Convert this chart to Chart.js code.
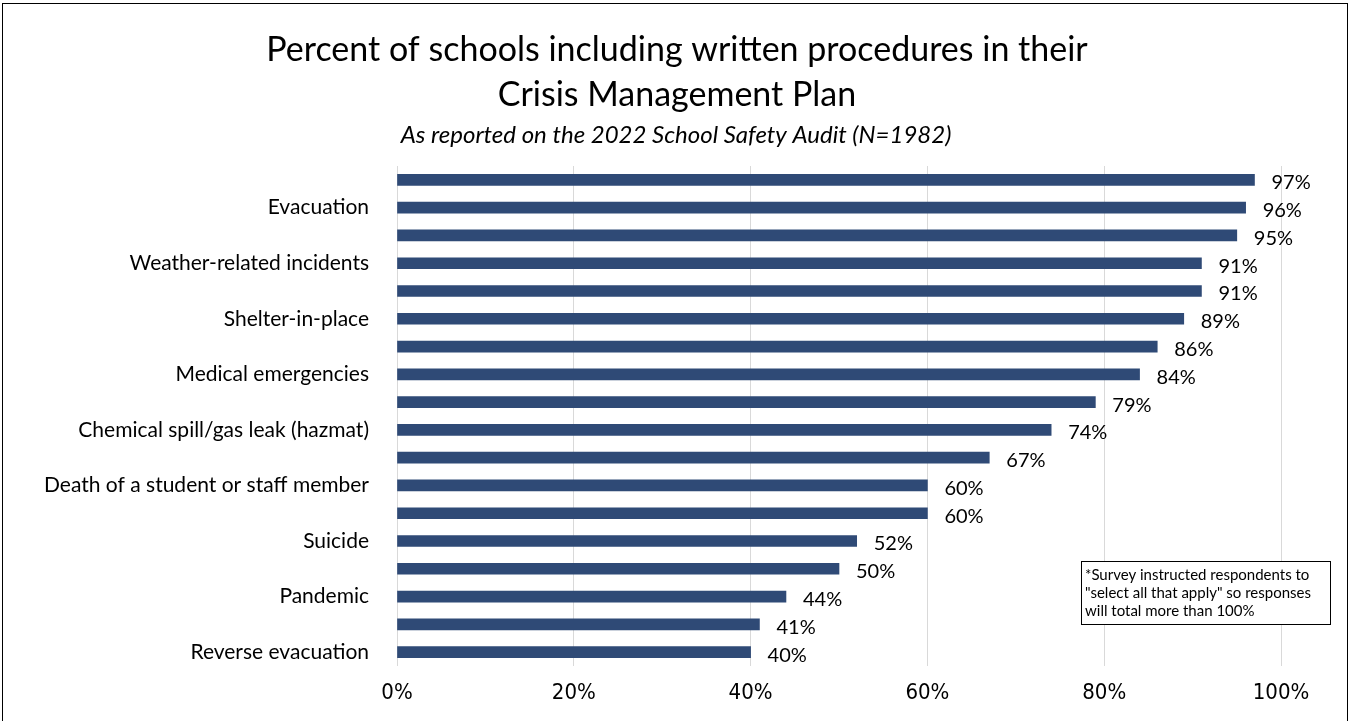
<!DOCTYPE html>
<html>
<head>
<meta charset="utf-8">
<script src="https://cdn.jsdelivr.net/npm/chart.js@4"></script>
<style>
html,body{margin:0;padding:0;background:#fff;}
#wrap{position:relative;width:1351px;height:721px;}
</style>
</head>
<body>
<div id="wrap"><canvas id="c" width="1351" height="721"></canvas></div>
<script>
const categories = [
  "", "Evacuation", "", "Weather-related incidents", "", "Shelter-in-place",
  "", "Medical emergencies", "", "Chemical spill/gas leak (hazmat)", "",
  "Death of a student or staff member", "", "Suicide", "", "Pandemic", "", "Reverse evacuation"
];
const percentValues = [97, 96, 95, 91, 91, 89, 86, 84, 79, 74, 67, 60, 60, 52, 50, 44, 41, 40];
const xTickValues = [0, 20, 40, 60, 80, 100];
const titleLines = ["Percent of schools including written procedures in their", "Crisis Management Plan"];
const subtitleText = "As reported on the 2022 School Safety Audit (N=1982)";
const noteLines = ['*Survey instructed respondents to', '"select all that apply" so responses', 'will total more than 100%'];

const labelFont = "Lato, 'Open Sans', sans-serif";
const narrowFont = "'Liberation Sans Narrow', 'DejaVu Sans Condensed', 'Liberation Sans', sans-serif";

const valueLabels = {
  id: 'valueLabels',
  afterDatasetsDraw(chart) {
    const ctx = chart.ctx;
    const meta = chart.getDatasetMeta(0);
    ctx.save();
    ctx.font = "20px " + labelFont;
    ctx.fillStyle = "#000";
    ctx.textAlign = "left";
    ctx.textBaseline = "middle";
    meta.data.forEach((bar, i) => {
      ctx.fillText(percentValues[i] + "%", bar.x + 17, bar.y + 3);
    });
    ctx.restore();
  }
};

const headerFrameNote = {
  id: 'headerFrameNote',
  beforeDraw(chart) {
    const ctx = chart.ctx;
    ctx.save();
    ctx.fillStyle = "#fff";
    ctx.fillRect(0, 0, chart.width, chart.height);
    ctx.restore();
  },
  afterDraw(chart) {
    const ctx = chart.ctx;
    ctx.save();
    // title and subtitle
    ctx.fillStyle = "#000";
    ctx.textAlign = "center";
    ctx.textBaseline = "middle";
    ctx.font = "34px " + labelFont;
    ctx.fillText(titleLines[0], 677, 50);
    ctx.fillText(titleLines[1], 677, 95);
    ctx.font = "italic 24px " + labelFont;
    ctx.fillText(subtitleText, 676, 135);
    // outer frame
    ctx.strokeStyle = "#000";
    ctx.lineWidth = 1;
    ctx.strokeRect(2.5, 3.5, 1345, 730);
    // note box
    ctx.fillStyle = "#fff";
    ctx.fillRect(1081, 561, 250, 64);
    ctx.strokeRect(1081.5, 561.5, 249, 63);
    ctx.fillStyle = "#000";
    ctx.font = "15px " + labelFont;
    ctx.textAlign = "left";
    noteLines.forEach((t, i) => ctx.fillText(t, 1085, 575 + i * 18));
    ctx.restore();
  }
};

new Chart(document.getElementById('c'), {
  type: 'bar',
  data: {
    labels: categories,
    datasets: [{
      data: percentValues,
      backgroundColor: '#2F4A76',
      barThickness: 11
    }]
  },
  options: {
    indexAxis: 'y',
    responsive: false,
    animation: false,
    layout: { padding: { left: 0, right: 70, top: 166, bottom: 0 } },
    plugins: {
      legend: { display: false },
      tooltip: { enabled: false },
      title: { display: false },
      subtitle: { display: false }
    },
    scales: {
      x: {
        min: 0, max: 100,
        afterBuildTicks(scale) { scale.ticks = xTickValues.map(v => ({ value: v })); },
        grid: { color: '#D9D9D9', drawTicks: false, lineWidth: 1 },
        border: { display: false },
        ticks: {
          color: '#000',
          padding: 14,
          font: { family: narrowFont, size: 22 },
          callback: v => v + '%'
        },
        afterFit(scale) { scale.height = 55; }
      },
      y: {
        grid: { display: false, drawTicks: false },
        border: { display: false },
        ticks: {
          autoSkip: false,
          color: '#000',
          padding: 28,
          font: { family: labelFont, size: 21 }
        },
        afterFit(scale) { scale.width = 397; }
      }
    }
  },
  plugins: [valueLabels, headerFrameNote]
});
</script>
</body>
</html>
